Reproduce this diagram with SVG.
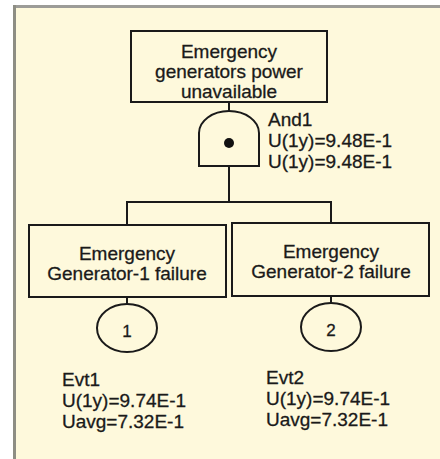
<svg xmlns="http://www.w3.org/2000/svg" width="440" height="459" viewBox="0 0 440 459">
  <style>
    .ln { fill: none; stroke: #1a1a1a; stroke-width: 2; }
    .bx { fill: #fef9dc; stroke: #1a1a1a; stroke-width: 2; }
    .t { font-family: "Liberation Sans", Arial, sans-serif; font-size: 19px; fill: #1a1a1a; stroke: #1a1a1a; stroke-width: 0.3; }
    .c { text-anchor: middle; }
  </style>
  <!-- page frame -->
  <rect x="0" y="0" width="440" height="459" fill="#ffffff"/>
  <rect x="13" y="5" width="427" height="454" fill="#fef9dc"/>
  <rect x="13" y="5" width="427" height="3" fill="#9c9c98"/>
  <rect x="13" y="5" width="3" height="454" fill="#8e8e84"/>

  <g id="connectors">
    <line class="ln" x1="229" y1="102" x2="229" y2="111"/>
    <line class="ln" x1="229" y1="166" x2="229" y2="202"/>
    <polyline class="ln" points="127,224 127,202 331,202 331,223"/>
    <line class="ln" x1="127" y1="297" x2="127" y2="305"/>
    <line class="ln" x1="331" y1="296" x2="331" y2="304"/>
  </g>

  <g id="top-event">
    <rect class="bx" x="131" y="31" width="196" height="71"/>
    <text class="t c" x="229" y="58">Emergency</text>
    <text class="t c" x="229" y="78">generators power</text>
    <text class="t c" x="229" y="98">unavailable</text>
  </g>

  <g id="and1">
    <path class="bx" d="M199,166 L199,133 A30,22 0 0 1 259,133 L259,166 Z"/>
    <circle cx="229" cy="143" r="5" fill="#111"/>
    <text class="t" x="268" y="126">And1</text>
    <text class="t" x="268" y="147">U(1y)=9.48E-1</text>
    <text class="t" x="268" y="168">U(1y)=9.48E-1</text>
  </g>

  <g id="gen1-failure">
    <rect class="bx" x="29" y="225" width="197" height="72"/>
    <text class="t c" x="127" y="260">Emergency</text>
    <text class="t c" x="127" y="280">Generator-1 failure</text>
  </g>

  <g id="gen2-failure">
    <rect class="bx" x="232" y="223" width="197" height="73"/>
    <text class="t c" x="331" y="258">Emergency</text>
    <text class="t c" x="331" y="278">Generator-2 failure</text>
  </g>

  <g id="evt1">
    <ellipse class="bx" cx="127" cy="328" rx="30" ry="24"/>
    <text class="t c" x="127" y="337" style="font-size:17px">1</text>
    <text class="t" x="62" y="386">Evt1</text>
    <text class="t" x="62" y="407">U(1y)=9.74E-1</text>
    <text class="t" x="62" y="428">Uavg=7.32E-1</text>
  </g>

  <g id="evt2">
    <ellipse class="bx" cx="331" cy="327" rx="30" ry="24"/>
    <text class="t c" x="331" y="336" style="font-size:17px">2</text>
    <text class="t" x="266" y="384">Evt2</text>
    <text class="t" x="266" y="405">U(1y)=9.74E-1</text>
    <text class="t" x="266" y="426">Uavg=7.32E-1</text>
  </g>
</svg>
